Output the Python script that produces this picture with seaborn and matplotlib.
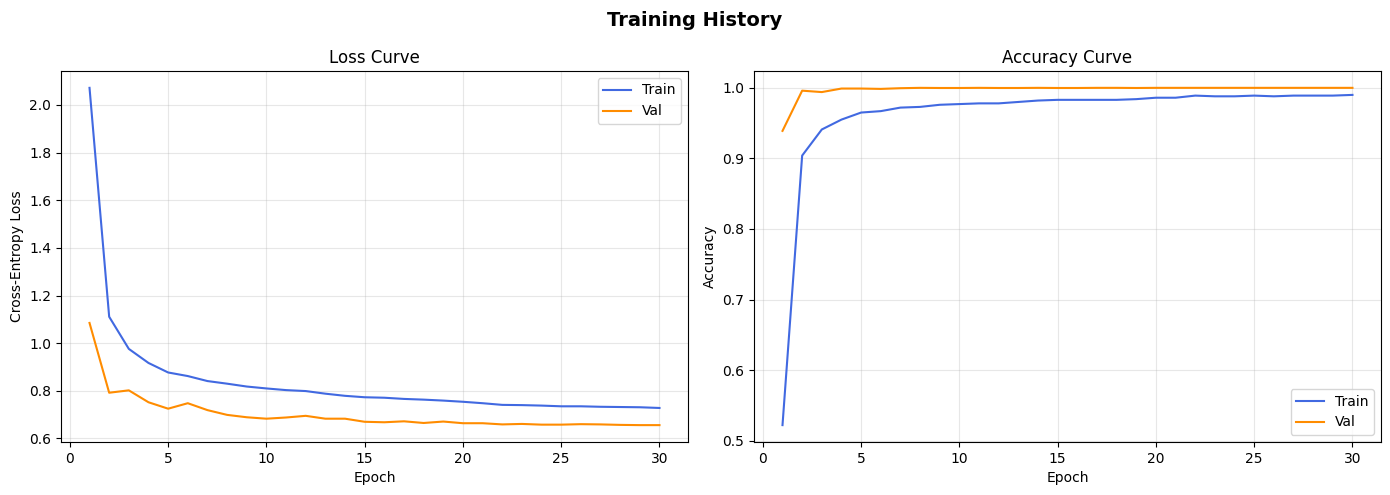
import numpy as np
import pandas as pd
import matplotlib
matplotlib.use("Agg")
import matplotlib.pyplot as plt
import seaborn as sns

epochs = list(range(1, 31))
train_loss = [2.072, 1.111, 0.976, 0.917, 0.877, 0.862, 0.841, 0.830, 0.818, 0.810,
              0.803, 0.799, 0.788, 0.779, 0.773, 0.771, 0.766, 0.763, 0.759, 0.754,
              0.748, 0.741, 0.740, 0.738, 0.735, 0.735, 0.733, 0.732, 0.731, 0.728]
val_loss = [1.085, 0.792, 0.802, 0.752, 0.725, 0.748, 0.719, 0.699, 0.689, 0.683,
            0.688, 0.695, 0.683, 0.683, 0.670, 0.668, 0.672, 0.665, 0.671, 0.664,
            0.664, 0.659, 0.661, 0.658, 0.658, 0.660, 0.659, 0.657, 0.656, 0.656]
train_acc = [0.522, 0.904, 0.941, 0.955, 0.965, 0.967, 0.972, 0.973, 0.976, 0.977,
             0.978, 0.978, 0.980, 0.982, 0.983, 0.983, 0.983, 0.983, 0.984, 0.986,
             0.986, 0.989, 0.988, 0.988, 0.989, 0.988, 0.989, 0.989, 0.989, 0.990]
val_acc = [0.939, 0.996, 0.994, 0.999, 0.999, 0.9985, 0.9995, 1.000, 0.9998, 0.9998,
           1.000, 0.9998, 0.9998, 1.000, 0.9998, 0.9998, 1.000, 1.000, 0.9998, 1.000,
           1.000, 1.000, 1.000, 1.000, 1.000, 1.000, 1.000, 1.000, 1.000, 1.000]

train_color = "#4169E1"
val_color = "#FF8C00"

fig, axes = plt.subplots(1, 2, figsize=(13.9, 4.95), dpi=100)

ax = axes[0]
sns.lineplot(x=epochs, y=train_loss, ax=ax, color=train_color, label="Train", linewidth=1.5)
sns.lineplot(x=epochs, y=val_loss, ax=ax, color=val_color, label="Val", linewidth=1.5)
ax.set_title("Loss Curve", fontsize=12)
ax.set_xlabel("Epoch")
ax.set_ylabel("Cross-Entropy Loss")
ax.grid(True, alpha=0.3)
ax.legend(loc="upper right")

ax = axes[1]
sns.lineplot(x=epochs, y=train_acc, ax=ax, color=train_color, label="Train", linewidth=1.5)
sns.lineplot(x=epochs, y=val_acc, ax=ax, color=val_color, label="Val", linewidth=1.5)
ax.set_title("Accuracy Curve", fontsize=12)
ax.set_xlabel("Epoch")
ax.set_ylabel("Accuracy")
ax.grid(True, alpha=0.3)
ax.legend(loc="lower right")

fig.suptitle("Training History", fontsize=14, fontweight="bold", y=0.978)
fig.subplots_adjust(left=0.0439, right=0.9935, top=0.8566, bottom=0.1071, wspace=0.1053)
fig.savefig("out.png", dpi=100)
